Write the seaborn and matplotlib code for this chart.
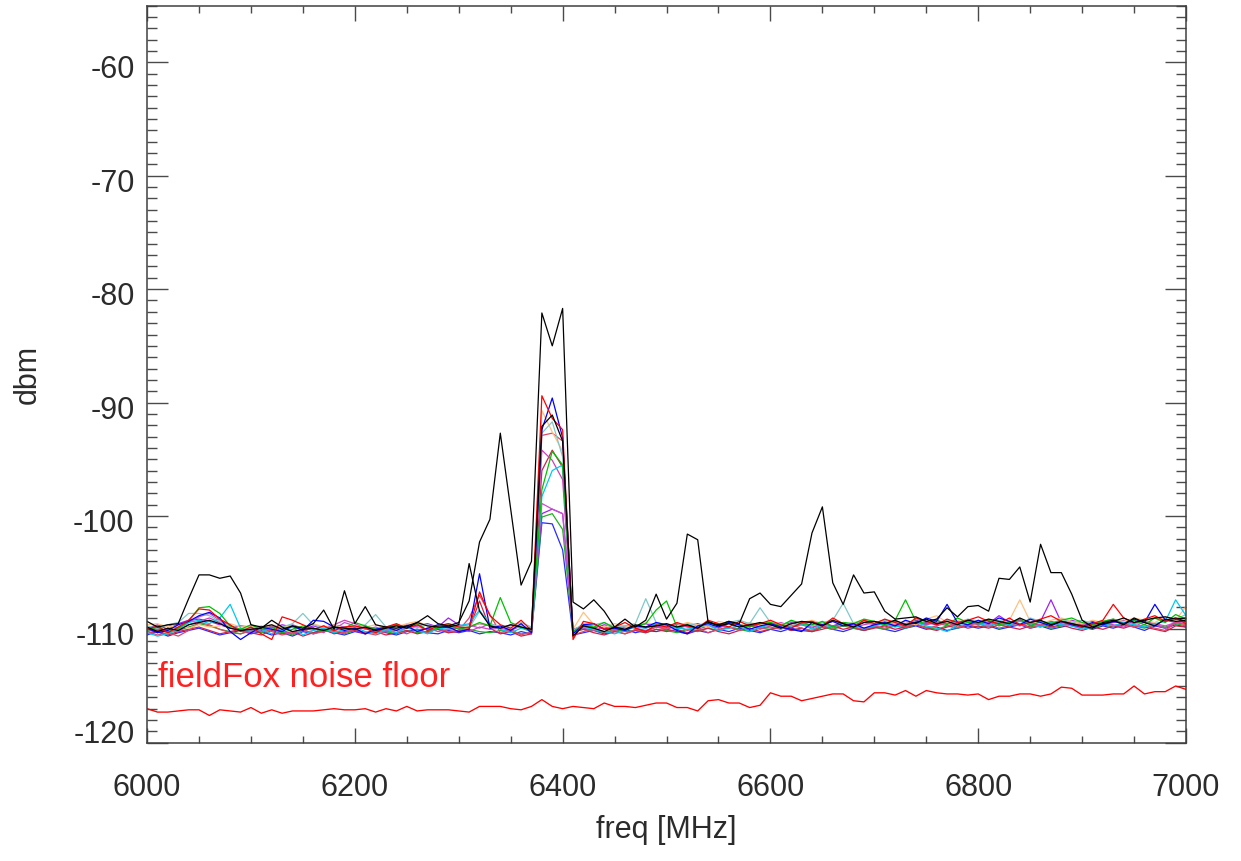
import numpy as np
import pandas as pd
import seaborn as sns
import matplotlib
matplotlib.use("Agg")
import matplotlib.pyplot as plt
from matplotlib.ticker import MultipleLocator
from matplotlib.transforms import ScaledTranslation

# sweep: 6000-7000 MHz, 101 points
freq = np.linspace(6000, 7000, 101)

# fieldFox noise floor
floor = [-117.0, -117.3, -117.3, -117.2, -117.1, -117.1, -117.6, -117.1, -117.2, -117.3,
         -116.9, -117.4, -117.1, -117.4, -117.2, -117.2, -117.2, -117.1, -117.0, -117.1,
         -117.1, -117.0, -117.3, -117.0, -117.2, -116.8, -117.2, -117.1, -117.1, -117.1,
         -117.2, -117.3, -116.8, -116.8, -116.8, -117.0, -117.1, -116.8, -116.2, -116.8,
         -117.0, -116.8, -116.9, -117.0, -116.5, -116.8, -116.8, -116.9, -116.7, -116.5,
         -116.5, -116.9, -116.9, -117.2, -116.3, -116.2, -116.5, -116.5, -116.9, -116.7,
         -115.6, -115.9, -115.9, -116.3, -116.1, -115.9, -115.7, -115.7, -116.3, -116.4,
         -115.6, -115.6, -115.8, -115.4, -115.9, -115.4, -115.6, -115.7, -115.7, -115.8,
         -115.7, -116.2, -115.9, -115.9, -115.7, -115.7, -115.9, -115.7, -115.1, -115.2,
         -115.8, -115.8, -115.8, -115.7, -115.7, -115.0, -115.7, -115.5, -115.5, -115.0,
         -115.3]

# black trace with the extra spurs
black_a = [-109.3, -109.8, -109.6, -109.5, -107.3, -105.2, -105.2, -105.5, -105.3, -106.8,
           -109.6, -109.8, -109.6, -110.0, -109.7, -109.9, -109.5, -108.3, -110.0, -106.6,
           -109.5, -108.0, -109.6, -109.8, -109.9, -109.7, -109.4, -108.8, -109.5, -109.7,
           -109.4, -107.5, -102.3, -100.3, -92.7, -99.4, -106.1, -104.0, -82.1, -85.0,
           -81.7, -107.6, -108.2, -107.4, -108.4, -109.8, -109.1, -109.8, -109.2, -106.9,
           -109.1, -107.7, -101.6, -102.1, -109.4, -109.6, -109.3, -109.5, -107.3, -106.8,
           -107.8, -108.0, -107.0, -106.0, -101.5, -99.2, -105.9, -107.8, -105.2, -106.8,
           -106.7, -108.4, -109.1, -109.0, -108.9, -109.3, -109.1, -108.1, -108.9, -108.0,
           -107.9, -108.4, -105.5, -105.6, -104.5, -107.6, -102.5, -105.0, -105.0, -106.9,
           -109.2, -109.8, -109.5, -109.3, -109.0, -109.4, -109.2, -109.0, -108.9, -109.1,
           -109.0]

black_b = [-109.8, -110.2, -109.9, -110.1, -109.6, -109.4, -109.2, -109.5, -109.9, -110.1,
           -110.0, -109.9, -109.2, -109.8, -110.2, -110.0, -109.9, -110.1, -109.8, -109.9,
           -110.0, -109.8, -110.1, -109.9, -109.7, -109.9, -109.4, -109.7, -109.8, -109.8,
           -109.6, -104.2, -108.4, -109.7, -109.9, -109.6, -109.8, -110.0, -92.1, -91.1,
           -93.4, -110.6, -109.7, -109.9, -110.2, -109.8, -110.0, -109.6, -109.8, -109.7,
           -109.5, -109.8, -109.6, -109.9, -109.3, -109.7, -109.5, -109.8, -109.6, -109.4,
           -109.6, -109.9, -109.5, -109.3, -109.4, -109.7, -109.2, -109.5, -109.8, -109.4,
           -109.3, -109.5, -109.2, -109.6, -109.4, -109.1, -109.5, -109.3, -109.6, -109.2,
           -109.4, -109.1, -109.3, -109.5, -109.0, -109.4, -109.2, -109.6, -109.3, -109.5,
           -109.7, -109.9, -109.4, -109.2, -109.6, -109.0, -109.4, -109.7, -109.1, -109.3,
           -109.2]

red_a = [-110.0, -109.7, -110.3, -109.8, -109.2, -108.2, -108.3, -109.1, -109.6, -110.2,
         -109.8, -110.4, -110.9, -108.9, -109.2, -109.6, -110.0, -109.7, -110.1, -109.8,
         -109.7, -109.9, -110.3, -109.8, -109.5, -109.9, -109.6, -110.1, -109.7, -109.5,
         -109.8, -109.9, -106.7, -108.8, -109.6, -109.9, -109.2, -110.1, -89.4, -91.4,
         -92.4, -110.9, -109.3, -109.5, -110.0, -109.8, -109.4, -109.9, -110.2, -109.6,
         -109.8, -109.4, -109.7, -109.9, -109.2, -109.5, -109.8, -109.3, -109.7, -109.5,
         -109.2, -109.6, -109.9, -109.4, -109.3, -109.7, -109.0, -109.5, -109.8, -109.2,
         -109.5, -109.1, -109.4, -109.7, -109.0, -109.3, -109.6, -109.1, -109.4, -109.2,
         -108.9, -109.3, -109.5, -109.0, -109.6, -109.4, -109.1, -108.8, -109.3, -109.5,
         -109.8, -109.5, -109.2, -107.8, -109.0, -109.4, -109.1, -108.8, -109.3, -109.0,
         -109.5]

blue_a = [-109.9, -110.3, -110.1, -109.6, -109.3, -108.8, -108.5, -109.0, -110.2, -110.9,
          -110.3, -109.8, -110.0, -110.2, -109.7, -110.1, -109.2, -109.3, -109.8, -110.1,
          -109.9, -110.4, -110.0, -109.8, -110.1, -109.7, -110.2, -109.9, -109.6, -109.8,
          -110.2, -110.0, -105.1, -109.9, -109.7, -110.1, -109.5, -110.3, -92.4, -89.6,
          -93.1, -110.4, -109.6, -109.5, -110.0, -109.9, -110.1, -109.7, -109.8, -109.4,
          -109.6, -110.1, -110.4, -109.7, -109.5, -109.8, -109.4, -109.6, -110.0, -109.7,
          -109.5, -109.8, -110.0, -110.2, -109.4, -109.6, -109.3, -109.7, -109.5, -109.9,
          -109.6, -109.4, -109.7, -109.2, -109.5, -109.0, -109.3, -107.8, -109.4, -109.6,
          -109.2, -109.5, -109.0, -109.3, -109.6, -109.1, -109.4, -109.7, -109.3, -109.6,
          -109.8, -109.4, -109.6, -109.3, -109.5, -109.1, -109.4, -107.8, -109.2, -109.0,
          -109.3]

green_a = [-110.1, -109.8, -110.2, -109.9, -109.3, -108.1, -108.0, -108.6, -109.7, -110.0,
           -109.6, -110.0, -109.8, -110.3, -110.0, -109.7, -109.9, -110.2, -109.8, -109.9,
           -109.4, -109.7, -110.0, -109.9, -109.6, -109.8, -109.5, -110.1, -109.9, -109.6,
           -110.0, -109.8, -109.4, -109.7, -107.2, -109.4, -109.8, -110.1, -97.7, -94.3,
           -95.5, -110.2, -109.6, -109.8, -109.4, -109.9, -110.1, -109.7, -109.5, -108.3,
           -107.5, -109.8, -109.6, -109.9, -109.4, -109.7, -109.3, -109.6, -109.8, -109.5,
           -109.4, -109.7, -109.2, -109.5, -109.6, -109.3, -109.8, -109.4, -109.5, -109.1,
           -109.3, -109.6, -109.2, -107.4, -109.3, -109.5, -109.2, -109.6, -109.0, -109.4,
           -109.5, -109.2, -109.6, -109.4, -109.1, -109.7, -109.3, -109.5, -109.2, -109.0,
           -109.4, -109.6, -109.3, -109.1, -109.5, -109.2, -109.6, -109.0, -109.4, -108.7,
           -109.1]

cyan_a = [-110.3, -110.6, -110.4, -110.0, -109.4, -109.2, -109.5, -109.0, -107.8, -109.9,
          -110.2, -110.0, -110.4, -110.1, -109.8, -110.5, -110.1, -109.9, -110.3, -110.0,
          -109.8, -110.2, -110.4, -110.0, -110.3, -109.9, -110.1, -110.4, -109.9, -110.0,
          -109.7, -109.5, -108.3, -109.6, -110.0, -110.3, -109.9, -110.2, -98.3, -96.0,
          -95.5, -110.3, -109.8, -110.0, -110.2, -110.4, -110.1, -109.8, -109.9, -109.5,
          -109.7, -109.9, -110.0, -109.8, -109.6, -110.1, -109.9, -109.7, -110.2, -109.8,
          -109.6, -109.9, -109.7, -109.5, -110.0, -109.6, -109.8, -109.5, -109.7, -109.9,
          -109.7, -109.5, -109.8, -109.6, -109.4, -109.7, -109.9, -110.2, -109.6, -109.4,
          -109.5, -109.7, -109.4, -109.6, -109.3, -109.5, -109.8, -109.4, -109.6, -109.7,
          -110.0, -109.8, -109.5, -109.7, -109.4, -109.6, -109.8, -109.5, -109.3, -107.4,
          -108.8]

teal_a = [-109.7, -109.9, -109.6, -109.4, -108.6, -108.6, -108.8, -109.3, -109.8, -110.0,
          -109.9, -109.7, -110.0, -109.8, -109.5, -108.6, -109.6, -109.9, -110.0, -109.8,
          -109.9, -109.6, -108.7, -109.8, -110.0, -109.7, -109.9, -109.6, -109.8, -109.5,
          -109.7, -109.9, -108.4, -109.5, -109.8, -109.7, -109.4, -109.8, -92.7, -91.7,
          -94.8, -110.1, -109.5, -109.6, -109.4, -109.8, -109.7, -109.5, -107.3, -109.4,
          -109.6, -109.8, -109.5, -109.7, -109.3, -109.6, -109.4, -109.2, -109.5, -108.1,
          -109.4, -109.6, -109.3, -109.5, -109.7, -109.4, -109.2, -107.7, -109.5, -109.3,
          -109.5, -109.2, -109.4, -109.6, -109.1, -109.3, -109.5, -109.2, -109.4, -109.1,
          -109.3, -109.5, -109.2, -109.4, -109.6, -109.0, -109.3, -109.5, -109.1, -109.4,
          -109.2, -109.5, -109.3, -109.1, -109.4, -109.6, -109.2, -109.0, -109.3, -109.1,
          -108.7]

orange_a = [-109.6, -109.5, -109.8, -109.7, -109.9, -109.6, -109.8, -109.7, -109.5, -109.8,
            -109.7, -109.9, -109.6, -109.8, -109.7, -109.9, -109.5, -109.8, -109.6, -109.9,
            -109.7, -109.8, -109.6, -109.9, -109.8, -109.5, -109.3, -109.7, -109.9, -109.6,
            -109.8, -109.7, -109.5, -109.6, -109.8, -109.9, -109.7, -110.0, -90.7, -92.6,
            -94.3, -110.0, -108.5, -109.6, -109.8, -109.5, -109.7, -109.9, -109.4, -109.6,
            -109.5, -109.7, -109.4, -109.6, -109.8, -109.3, -109.5, -109.7, -109.4, -109.6,
            -109.3, -109.5, -109.7, -109.4, -109.2, -109.5, -109.3, -109.6, -109.4, -109.2,
            -109.4, -109.2, -109.5, -109.3, -109.6, -109.1, -108.8, -109.4, -109.2, -109.5,
            -109.3, -109.1, -109.4, -109.2, -107.4, -109.3, -109.5, -109.2, -109.0, -109.3,
            -109.5, -109.2, -109.4, -109.1, -109.3, -109.0, -109.2, -109.4, -108.9, -109.2,
            -108.0]

crimson_a = [-110.2, -110.5, -110.3, -110.6, -110.1, -109.4, -109.6, -110.0, -110.3, -110.4,
             -110.1, -109.9, -110.2, -110.5, -110.3, -110.0, -110.4, -110.2, -110.1, -110.3,
             -110.0, -110.3, -110.5, -110.2, -110.1, -110.4, -110.0, -110.3, -109.9, -110.2,
             -110.1, -109.0, -107.0, -108.7, -110.3, -110.0, -110.5, -110.2, -92.9, -92.7,
             -93.4, -110.5, -110.2, -109.9, -110.3, -110.1, -110.4, -110.0, -110.2, -109.8,
             -110.0, -109.7, -110.1, -109.9, -110.3, -110.0, -109.8, -110.1, -109.7, -109.9,
             -109.8, -110.0, -109.6, -109.9, -110.1, -109.7, -109.9, -109.6, -109.8, -110.0,
             -109.7, -109.9, -109.6, -109.8, -109.5, -109.9, -109.7, -109.4, -109.8, -109.6,
             -109.5, -109.8, -109.4, -109.7, -109.5, -109.9, -109.6, -109.3, -109.7, -109.5,
             -109.6, -109.8, -109.4, -109.7, -109.5, -109.8, -109.6, -109.9, -110.1, -109.4,
             -109.6]

magenta_a = [-110.0, -110.3, -109.9, -110.2, -109.6, -109.3, -109.0, -109.4, -109.9, -110.1,
             -110.3, -110.0, -109.7, -110.2, -110.4, -110.1, -109.9, -110.3, -109.6, -109.2,
             -109.5, -109.9, -110.2, -110.0, -110.3, -109.8, -110.1, -109.9, -110.2, -110.0,
             -109.9, -110.2, -109.8, -110.0, -109.9, -110.1, -109.7, -110.3, -94.2, -95.1,
             -96.8, -110.3, -109.9, -110.1, -109.8, -110.0, -109.7, -109.9, -110.1, -109.8,
             -109.9, -109.6, -109.8, -110.0, -109.7, -109.9, -109.5, -109.8, -109.6, -110.0,
             -109.7, -109.5, -109.8, -109.6, -109.9, -109.4, -109.7, -109.5, -109.8, -109.6,
             -109.4, -109.7, -109.5, -109.8, -109.3, -109.6, -109.4, -109.7, -109.5, -109.3,
             -109.6, -109.4, -109.7, -109.5, -109.2, -109.6, -109.8, -109.4, -109.6, -109.3,
             -109.5, -109.7, -109.4, -109.6, -109.8, -109.5, -109.3, -109.6, -109.9, -109.4,
             -109.2]

red_b = [-110.4, -110.1, -110.5, -110.2, -110.0, -109.8, -110.1, -110.4, -110.2, -110.0,
         -110.3, -110.5, -110.1, -110.4, -110.2, -110.6, -110.3, -110.0, -110.4, -110.2,
         -110.1, -110.4, -110.2, -110.5, -110.3, -110.1, -110.4, -110.2, -110.0, -110.3,
         -110.2, -110.0, -107.5, -109.9, -110.4, -110.2, -110.6, -110.4, -96.0, -94.2,
         -95.7, -110.2, -110.0, -110.3, -110.5, -110.2, -110.4, -110.1, -110.3, -110.0,
         -110.2, -110.0, -110.3, -110.1, -109.9, -110.2, -110.4, -110.1, -109.9, -110.2,
         -110.0, -109.8, -110.1, -109.9, -110.2, -110.0, -109.7, -110.0, -109.8, -110.1,
         -109.9, -109.7, -110.0, -109.8, -109.6, -109.9, -110.1, -109.8, -109.6, -109.9,
         -109.7, -109.9, -109.6, -109.8, -110.0, -109.7, -109.5, -109.8, -109.6, -109.9,
         -110.1, -109.8, -110.0, -109.7, -109.9, -109.6, -109.8, -110.0, -110.2, -109.7,
         -109.8]

magenta_b = [-109.8, -110.0, -109.6, -109.9, -109.4, -108.9, -108.6, -109.2, -109.7, -110.1,
             -109.9, -110.2, -109.8, -110.0, -109.6, -109.9, -110.1, -109.7, -110.0, -109.4,
             -109.7, -110.0, -109.8, -110.1, -109.9, -109.6, -109.8, -110.0, -109.7, -109.9,
             -109.8, -109.6, -109.9, -109.5, -109.8, -110.0, -109.6, -110.1, -98.9, -99.4,
             -99.8, -110.1, -109.8, -109.6, -109.9, -110.1, -109.8, -109.7, -109.9, -109.6,
             -109.8, -109.5, -109.7, -109.9, -109.4, -109.6, -109.9, -109.7, -109.5, -109.8,
             -109.6, -109.4, -109.7, -109.5, -109.8, -109.6, -109.3, -109.5, -109.7, -109.4,
             -109.6, -109.3, -109.5, -109.7, -109.4, -109.6, -109.2, -109.5, -109.3, -109.6,
             -109.4, -109.6, -109.3, -109.5, -109.7, -109.4, -109.6, -109.3, -109.5, -109.7,
             -109.9, -109.6, -109.4, -109.7, -109.5, -109.8, -109.3, -109.5, -109.7, -109.4,
             -109.5]

purple_a = [-109.9, -109.6, -110.0, -109.5, -109.2, -109.1, -109.3, -109.6, -109.9, -109.7,
            -109.8, -110.1, -109.9, -109.6, -109.8, -110.0, -109.7, -109.9, -109.6, -109.8,
            -109.9, -109.7, -110.0, -109.8, -109.6, -109.9, -109.7, -109.5, -109.8, -109.0,
            -109.6, -109.8, -109.5, -109.7, -109.9, -109.6, -109.8, -109.9, -99.8, -99.4,
            -99.8, -110.0, -109.7, -109.9, -109.6, -109.8, -110.0, -109.7, -109.5, -109.8,
            -109.6, -109.9, -109.7, -109.5, -109.8, -109.6, -109.3, -109.7, -109.5, -109.8,
            -109.5, -109.7, -109.4, -109.6, -109.3, -109.5, -109.7, -109.4, -109.6, -109.3,
            -109.4, -109.6, -109.3, -109.5, -109.2, -109.4, -109.6, -109.3, -109.5, -109.2,
            -109.3, -109.5, -108.8, -109.4, -109.2, -109.5, -109.3, -107.4, -109.4, -109.2,
            -109.5, -109.3, -109.6, -109.4, -109.2, -109.5, -109.3, -109.6, -109.2, -109.4,
            -109.3]

green_b = [-110.2, -110.0, -110.3, -110.1, -109.8, -109.5, -109.7, -110.0, -110.2, -110.4,
           -110.1, -110.3, -110.0, -110.2, -110.5, -110.1, -110.3, -110.0, -110.2, -110.4,
           -110.1, -110.3, -110.0, -110.2, -110.4, -110.1, -110.3, -110.2, -110.0, -110.3,
           -110.1, -110.0, -110.2, -110.3, -110.1, -110.2, -110.4, -110.3, -100.1, -99.8,
           -101.2, -110.2, -110.0, -110.1, -110.3, -110.0, -110.2, -110.1, -110.3, -110.0,
           -110.1, -110.3, -110.0, -110.2, -109.9, -110.1, -109.8, -110.0, -110.2, -109.9,
           -110.0, -109.8, -110.1, -109.9, -110.2, -109.8, -110.0, -109.7, -109.9, -110.1,
           -109.8, -110.0, -109.7, -109.9, -109.6, -109.8, -110.0, -109.7, -109.9, -109.6,
           -109.8, -109.6, -109.9, -109.7, -109.5, -109.8, -109.6, -109.9, -109.7, -109.5,
           -109.7, -109.9, -109.6, -109.8, -109.5, -109.7, -109.9, -109.6, -109.8, -109.5,
           -109.7]

blue_b = [-110.5, -110.2, -110.6, -110.3, -110.1, -109.9, -110.2, -110.5, -110.3, -110.1,
          -110.4, -110.2, -110.5, -110.3, -110.6, -110.2, -110.4, -110.1, -110.3, -110.5,
          -110.2, -110.4, -110.1, -110.3, -110.5, -110.2, -110.0, -110.3, -110.4, -110.1,
          -110.3, -110.1, -110.4, -110.2, -110.3, -110.5, -110.2, -110.4, -100.6, -100.7,
          -103.0, -110.5, -110.3, -110.1, -110.4, -110.2, -110.0, -110.3, -110.1, -110.2,
          -110.0, -110.2, -110.4, -110.1, -110.3, -110.0, -110.2, -109.9, -110.1, -110.3,
          -110.0, -110.2, -109.9, -110.1, -110.2, -109.8, -110.0, -110.2, -109.9, -110.1,
          -109.8, -110.0, -110.2, -109.9, -109.7, -110.0, -109.8, -110.1, -109.9, -109.7,
          -109.9, -109.7, -110.0, -109.8, -109.6, -109.9, -109.7, -110.0, -109.8, -109.6,
          -109.8, -110.0, -109.7, -109.9, -109.6, -109.8, -110.1, -109.7, -109.9, -109.6,
          -109.8]

# traces in drawing order with their line colours
traces = [
    (blue_b, "#2a2aff"), (green_b, "#22b022"), (red_b, "#d0204a"),
    (purple_a, "#a020f0"), (magenta_b, "#c850d0"), (magenta_a, "#d040b8"),
    (crimson_a, "#e04862"), (orange_a, "#ffc080"), (teal_a, "#80c8c8"),
    (cyan_a, "#00c8f0"), (green_a, "#00c000"), (blue_a, "#0000ff"),
    (red_a, "#ff0000"), (black_b, "#000000"), (black_a, "#000000"),
]

sns.set_style("ticks")
plt.rcParams["font.family"] = ["Liberation Sans", "DejaVu Sans"]
plt.rcParams["axes.unicode_minus"] = False
txt_col = "#2b2b2b"

fig = plt.figure(figsize=(12.41, 8.61), dpi=100)
ax = fig.add_axes([0.1185, 0.1374, 0.8372, 0.8560])

for vals, col in traces:
    df = pd.DataFrame({"freq": freq, "dbm": vals})
    sns.lineplot(data=df, x="freq", y="dbm", color=col, lw=0.9, ax=ax)

sns.lineplot(x=freq, y=floor, color="#ff0000", lw=0.95, ax=ax)

ax.text(6011, -115.05, "fieldFox noise floor", color="#ff2020", fontsize=25,
        va="baseline", ha="left")

ax.set_xlim(6000, 7000)
ax.set_ylim(-120, -55)
ax.xaxis.set_major_locator(MultipleLocator(200))
ax.xaxis.set_minor_locator(MultipleLocator(50))
ax.yaxis.set_major_locator(MultipleLocator(10))
ax.yaxis.set_minor_locator(MultipleLocator(1))

ax.tick_params(axis="both", which="both", direction="in", top=True, right=True,
               color="#4a4a4a", width=1.0, labelcolor=txt_col, labelsize=22)
ax.tick_params(axis="x", which="major", length=10.6, pad=22)
ax.tick_params(axis="x", which="minor", length=5.3)
ax.tick_params(axis="y", which="major", length=15, pad=9)
ax.tick_params(axis="y", which="minor", length=7.5)

for side in ["left", "right", "top", "bottom"]:
    ax.spines[side].set_color("#404040")
    ax.spines[side].set_linewidth(1.1)

ax.set_xlabel("freq [MHz]", fontsize=22, color=txt_col)
ax.set_ylabel("dbm", fontsize=22, color=txt_col)
ax.xaxis.set_label_coords(0.5, -0.098)
ax.yaxis.set_label_coords(-0.1, 0.5)

# IDL style label offsets on y axis
fig.canvas.draw()
for lab in ax.get_yticklabels():
    if lab.get_text().replace("\u2212", "-") == "-120":
        dy = 0.11
    else:
        dy = -0.045
    lab.set_transform(lab.get_transform() + ScaledTranslation(0, dy, fig.dpi_scale_trans))

plt.savefig("out.png", dpi=100)
plt.close()
